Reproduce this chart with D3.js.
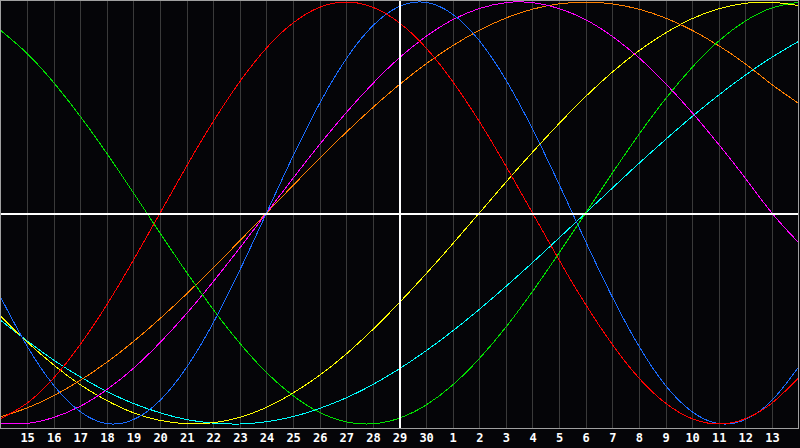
<!DOCTYPE html>
<html>
<head>
<meta charset="utf-8">
<script src="https://cdn.jsdelivr.net/npm/d3@7"></script>
<style>
  html, body { margin: 0; padding: 0; background: #050508; }
  svg { display: block; }
</style>
</head>
<body>
<svg id="chart" width="800" height="448"></svg>
<script>
// day labels along the bottom (index 0 and 30 sit on the frame edges)
const days = [14, 15, 16, 17, 18, 19, 20, 21, 22, 23, 24, 25, 26, 27, 28, 29, 30,
              1, 2, 3, 4, 5, 6, 7, 8, 9, 10, 11, 12, 13, 14];
const today = 15; // index of the white vertical line (day 29)

// rhythm values per day, -1..1
const red = [-0.975, -0.901, -0.782, -0.623, -0.434, -0.223, 0, 0.223, 0.434, 0.623, 0.782, 0.901, 0.975, 1.000, 0.975, 0.901,
             0.782, 0.623, 0.434, 0.223, 0, -0.223, -0.434, -0.623, -0.782, -0.901, -0.975, -1.000, -0.975, -0.901, -0.782];
const blue = [-0.398, -0.631, -0.817, -0.942, -0.998, -0.979, -0.888, -0.731, -0.520, -0.270, 0, 0.270, 0.520, 0.731, 0.888, 0.979,
              0.998, 0.942, 0.817, 0.631, 0.398, 0.136, -0.136, -0.398, -0.631, -0.817, -0.942, -0.998, -0.979, -0.888, -0.731];
const green = [0.866, 0.756, 0.618, 0.458, 0.282, 0.095, -0.095, -0.282, -0.458, -0.618, -0.756, -0.866, -0.945, -0.990, -0.999, -0.972,
               -0.910, -0.815, -0.690, -0.541, -0.372, -0.189, 0, 0.189, 0.372, 0.541, 0.690, 0.815, 0.910, 0.972, 0.999];
const magenta = [-0.997, -0.997, -0.969, -0.916, -0.837, -0.736, -0.614, -0.476, -0.325, -0.165, 0, 0.165, 0.325, 0.476, 0.614, 0.736,
                 0.837, 0.916, 0.969, 0.997, 0.997, 0.969, 0.916, 0.837, 0.736, 0.614, 0.476, 0.325, 0.165, 0, -0.140];
const orange = [-0.966, -0.924, -0.866, -0.793, -0.707, -0.609, -0.500, -0.383, -0.259, -0.131, 0, 0.131, 0.259, 0.383, 0.500, 0.609,
                0.707, 0.793, 0.866, 0.924, 0.966, 0.991, 1.000, 0.991, 0.966, 0.924, 0.866, 0.793, 0.707, 0.609, 0.520];
const yellow = [-0.489, -0.611, -0.720, -0.814, -0.889, -0.947, -0.983, -0.999, -0.994, -0.968, -0.921, -0.853, -0.769, -0.668, -0.552, -0.424,
                -0.288, -0.146, 0, 0.146, 0.288, 0.424, 0.552, 0.668, 0.769, 0.853, 0.921, 0.968, 0.994, 0.999, 0.983];
const cyan = [-0.508, -0.606, -0.697, -0.777, -0.846, -0.903, -0.947, -0.979, -0.996, -1.000, -0.989, -0.965, -0.926, -0.876, -0.813, -0.738,
              -0.653, -0.559, -0.457, -0.348, -0.235, -0.118, 0, 0.118, 0.235, 0.348, 0.457, 0.559, 0.653, 0.738, 0.813];

const series = [
    { values: cyan, color: "#00ffff" },
    { values: yellow, color: "#ffff00" },
    { values: orange, color: "#ff8000" },
    { values: magenta, color: "#ff00ff" },
    { values: green, color: "#00e000" },
    { values: blue, color: "#1a6cff" },
    { values: red, color: "#ff0000" }
];

// frame
const frameLeft = 0.5, frameRight = 798.5, frameTop = 0.5, frameBottom = 428.5;

const svg = d3.select("#chart");

const x = d3
    .scaleLinear()
    .domain([0, days.length - 1])
    .range([frameLeft, frameRight]);

const y = d3
    .scaleLinear()
    .domain([-1, 1])
    .range([424, 2]);

// background
svg.append("rect")
    .attr("width", 800)
    .attr("height", 448)
    .attr("fill", "#050508");

// day grid lines
svg.append("g")
    .selectAll("line")
    .data(d3.range(1, days.length - 1))
    .join("line")
    .attr("x1", d => Math.round(x(d)) + 0.5)
    .attr("x2", d => Math.round(x(d)) + 0.5)
    .attr("y1", frameTop)
    .attr("y2", frameBottom)
    .attr("stroke", "#3a3a3a")
    .attr("stroke-width", 1);

// rhythm curves
const line = d3.line()
    .x((d, i) => x(i))
    .y(d => y(d))
    .curve(d3.curveNatural);

svg.append("g")
    .selectAll("path")
    .data(series)
    .join("path")
    .attr("d", d => line(d.values))
    .attr("fill", "none")
    .attr("stroke", d => d.color)
    .attr("stroke-width", 1)
    .attr("shape-rendering", "crispEdges");

// today + zero lines
svg.append("line")
    .attr("x1", Math.round(x(today)))
    .attr("x2", Math.round(x(today)))
    .attr("y1", frameTop)
    .attr("y2", frameBottom)
    .attr("stroke", "#ffffff")
    .attr("stroke-width", 2);

svg.append("line")
    .attr("x1", frameLeft)
    .attr("x2", frameRight)
    .attr("y1", Math.round(y(0)) + 1)
    .attr("y2", Math.round(y(0)) + 1)
    .attr("stroke", "#ffffff")
    .attr("stroke-width", 2);

// frame border
svg.append("rect")
    .attr("x", frameLeft)
    .attr("y", frameTop)
    .attr("width", frameRight - frameLeft)
    .attr("height", frameBottom - frameTop)
    .attr("fill", "none")
    .attr("stroke", "#a0a0a0")
    .attr("stroke-width", 1);

// day labels via an axis
const axis = svg.append("g")
    .attr("transform", `translate(0,${frameBottom})`)
    .call(d3.axisBottom(x)
        .tickValues(d3.range(1, days.length - 1))
        .tickFormat(i => days[i])
        .tickSize(0)
        .tickPadding(5));

axis.select(".domain").remove();
axis.selectAll("text")
    .attr("fill", "#ffffff")
    .style("font-family", "'DejaVu Sans Mono', monospace")
    .style("font-weight", "bold")
    .style("font-size", "12px");
</script>
</body>
</html>
